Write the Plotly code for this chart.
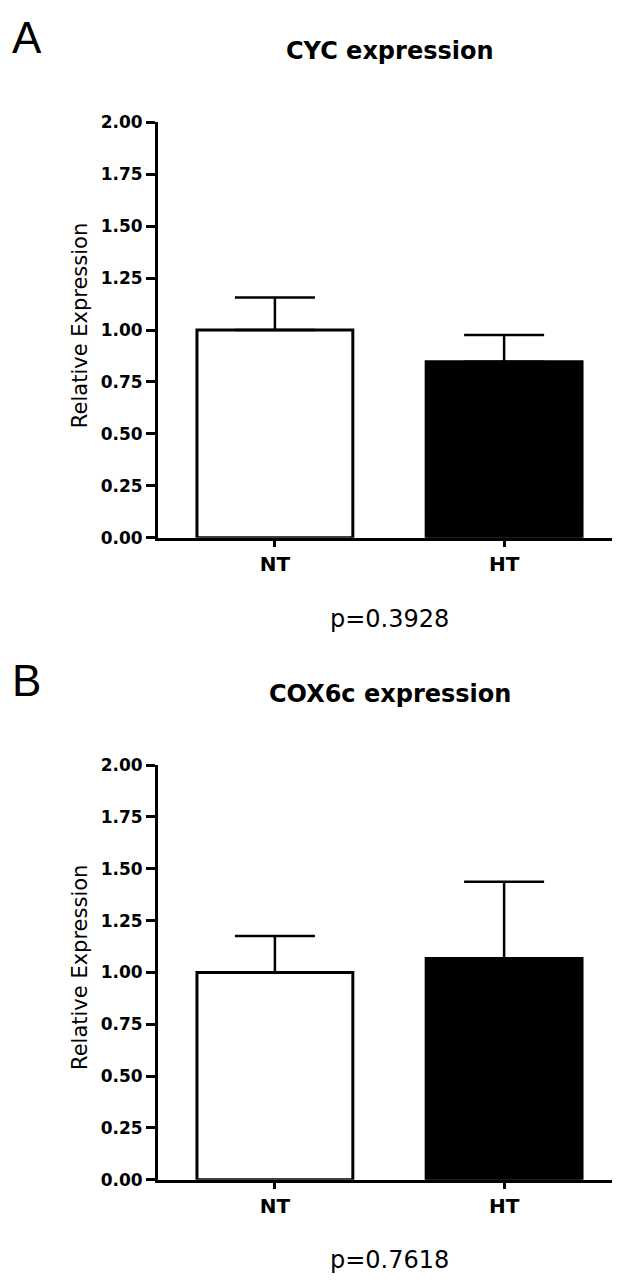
import plotly.graph_objects as go

# ---- data ----
categories = ["NT", "HT"]
cyc_mean = [1.00, 0.848]
cyc_sem = [0.157, 0.128]
cox_mean = [1.00, 1.067]
cox_sem = [0.176, 0.371]
bar_colors = ["white", "black"]
panel_titles = ["CYC expression", "COX6c expression"]
panel_letters = ["A", "B"]
p_values = ["p=0.3928", "p=0.7618"]
y_ticks = [0, 0.25, 0.5, 0.75, 1.0, 1.25, 1.5, 1.75, 2.0]
y_ticktext = [f"{v:.2f}" for v in y_ticks]

W, H = 620, 1285
def py(px):
    return 1 - px / H

xdom = [150 / W, 613 / W]
ydom_top = [py(528), py(106)]
ydom_bot = [py(1180), py(759)]

fig = go.Figure()
for i, (means, sems) in enumerate([(cyc_mean, cyc_sem), (cox_mean, cox_sem)]):
    fig.add_trace(go.Bar(
        x=categories, y=means,
        xaxis="x" if i == 0 else "x2",
        yaxis="y" if i == 0 else "y2",
        width=0.68,
        marker=dict(color=bar_colors, line=dict(color="black", width=3)),
        error_y=dict(type="data", array=sems, arrayminus=[0, 0], symmetric=False,
                     color="black", thickness=2.5, width=40),
        showlegend=False,
    ))

font_family = "DejaVu Sans, Verdana, sans-serif"
yaxis_common = dict(range=[0, 2], tickvals=y_ticks, ticktext=y_ticktext,
                    showgrid=False, zeroline=False, showline=True, linecolor="black",
                    linewidth=3, ticks="outside", ticklen=9, tickwidth=3, tickcolor="black",
                    tickfont=dict(family=font_family, size=17, color="black", weight="bold"),
                    fixedrange=True)
xaxis_common = dict(range=[-0.51, 1.51], showgrid=False, zeroline=False, showline=True,
                    linecolor="black", linewidth=3, ticks="outside", ticklen=6, tickwidth=3,
                    tickcolor="black",
                    tickfont=dict(family=font_family, size=20, color="black", weight="bold"),
                    domain=xdom, fixedrange=True)

fig.update_layout(
    width=W, height=H,
    margin=dict(l=0, r=0, t=0, b=0),
    paper_bgcolor="white", plot_bgcolor="white",
    xaxis=dict(**xaxis_common, anchor="y"),
    yaxis=dict(**yaxis_common, domain=ydom_top, anchor="x"),
    xaxis2=dict(**xaxis_common, anchor="y2"),
    yaxis2=dict(**yaxis_common, domain=ydom_bot, anchor="x2"),
)

annotations = []
title_y = [py(34), py(687)]
letter_y = [py(20), py(673)]
p_y = [py(610), py(1262)]
ylab_y = [py(313), py(965)]
for i in range(2):
    annotations.append(dict(text=panel_titles[i], x=382 / W, y=title_y[i], xref="paper", yref="paper",
                            showarrow=False, xanchor="center", yanchor="middle",
                            font=dict(family=font_family, size=24, color="black", weight="bold")))
    annotations.append(dict(text=panel_letters[i], x=2 / W, y=letter_y[i], xref="paper", yref="paper",
                            showarrow=False, xanchor="left", yanchor="middle",
                            font=dict(family="Liberation Sans Narrow, Arial Narrow, sans-serif",
                                      size=44, color="black")))
    annotations.append(dict(text=p_values[i], x=381 / W, y=p_y[i], xref="paper", yref="paper",
                            showarrow=False, xanchor="center", yanchor="middle",
                            font=dict(family=font_family, size=24, color="black")))
    annotations.append(dict(text="Relative Expression", x=72 / W, y=ylab_y[i], xref="paper", yref="paper",
                            showarrow=False, xanchor="center", yanchor="middle", textangle=-90,
                            font=dict(family=font_family, size=21, color="black")))
fig.update_layout(annotations=annotations)

fig.write_html("out.html")
